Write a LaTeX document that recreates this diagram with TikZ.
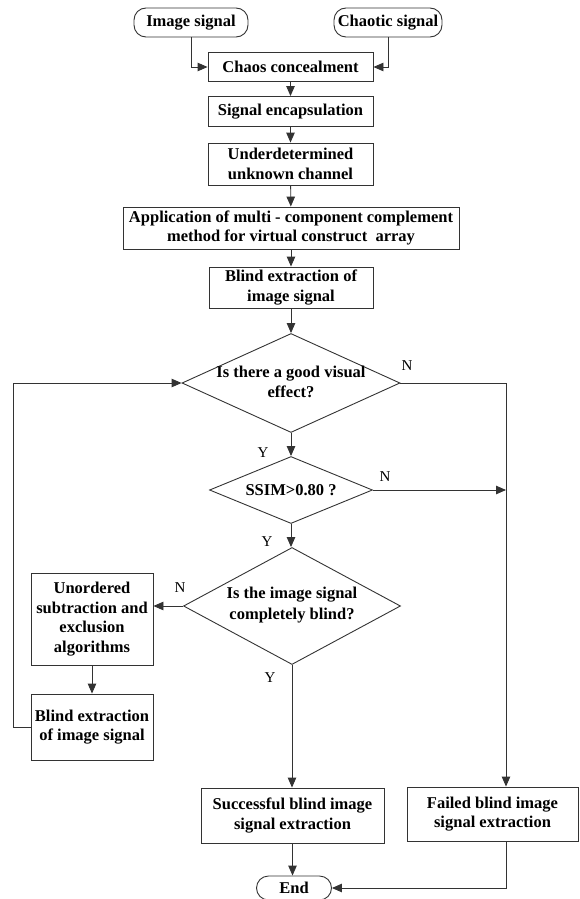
\documentclass[tikz,border=0pt]{standalone}
\usepackage{fontspec}
\setmainfont{Liberation Serif}
\usetikzlibrary{arrows.meta,shapes.geometric}
\begin{document}
\begin{tikzpicture}[x=1pt,y=-1pt,
  ln/.style={draw=black!80, line width=0.9pt},
  arr/.style={ln, -{Triangle[length=10pt,width=8.5pt]}},
  box/.style={draw=black!80, line width=0.9pt, fill=white, inner sep=0pt, align=center,
    font=\fontsize{16.5}{19.5}\selectfont\bfseries},
  term/.style={box, rounded corners=12pt},
  dia/.style={diamond, draw=black!80, line width=0.9pt, inner sep=0pt},
  dtext/.style={align=center, inner sep=0pt, font=\fontsize{16.5}{20.5}\selectfont\bfseries},
  yn/.style={inner sep=0pt, font=\fontsize{15}{15}\selectfont}
]
\useasboundingbox (0,0) rectangle (579,899);
\node[term, minimum width=114pt, minimum height=29pt] (img) at (191,22.5) {Image signal};
\node[term, minimum width=108pt, minimum height=29pt] (cha) at (388,22.5) {Chaotic signal};
\node[box, minimum width=165pt, minimum height=29pt] (conc) at (290.5,67) {Chaos concealment};
\node[box, minimum width=165pt, minimum height=30pt] (enc) at (290.5,111.5) {Signal encapsulation};
\node[box, minimum width=165pt, minimum height=42pt] (und) at (290.5,164) {Underdetermined\\unknown channel};
\node[box, minimum width=336pt, minimum height=42pt] (app) at (291,228) {Application of multi - component complement\\method for virtual construct \ array};
\node[box, minimum width=164pt, minimum height=41pt] (ble) at (291,287.5) {Blind extraction of\\image signal};
\node[dia, minimum width=218pt, minimum height=99pt] (d1) at (291,383) {};
\node[dtext] (t1) at (291,382) {Is there a good visual\\effect?};
\node[dia, minimum width=163pt, minimum height=67pt] (d2) at (291,490) {};
\node[dtext] (t2) at (291,490) {SSIM>0.80 ?};
\node[dia, minimum width=217pt, minimum height=117pt] (d3) at (292,606) {};
\node[dtext] (t3) at (292,605) {Is the image signal\\completely blind?};
\node[box, minimum width=122pt, minimum height=92pt] (uno) at (92,619) {Unordered\\subtraction and\\exclusion\\algorithms};
\node[box, minimum width=122pt, minimum height=66pt] (bl2) at (92,727) {Blind extraction\\of image signal};
\node[box, minimum width=183pt, minimum height=55pt] (suc) at (292.5,815.5) {Successful blind image\\signal extraction};
\node[box, minimum width=171pt, minimum height=54pt] (fai) at (492.5,814) {Failed blind image\\signal extraction};
\node[term, minimum width=75pt, minimum height=24pt] (end) at (294,888) {End};
\coordinate (r1) at (506,383);
\coordinate (l1) at (13,727);
% connectors
\draw[arr] (img.south) |- (conc.west);
\draw[arr] (cha.south) |- (conc.east);
\draw[arr] (conc) -- (enc);
\draw[arr] (enc) -- (und);
\draw[arr] (und) -- (app);
\draw[arr] (app) -- (ble);
\draw[arr] (ble) -- (d1.north);
\draw[arr] (d1.south) -- (d2.north);
\draw[arr] (d2.south) -- (d2.south |- d3.north);
\draw[arr] (d1.east) -- (r1) -- (r1 |- fai.north);
\draw[arr] (d2.east) -- (d2.east -| r1);
\draw[arr] (d3.west) -- (uno.east |- d3.west);
\draw[arr] (uno) -- (bl2);
\draw[arr] (bl2.west) -- (l1) |- (d1.west);
\draw[arr] (d3.south) -- (d3.south |- suc.north);
\draw[arr] (suc.south) -- (suc.south |- end.north);
\draw[arr] (fai.south -| r1) -- (r1 |- end) -- (end.east);
% labels
\node[yn] (n1) at (407,366) {N};
\node[yn] (y1) at (263,453) {Y};
\node[yn] (n2) at (385,477) {N};
\node[yn] (y2) at (267,542) {Y};
\node[yn] (n3) at (180,588) {N};
\node[yn] (y3) at (270,678) {Y};
\end{tikzpicture}
\end{document}
